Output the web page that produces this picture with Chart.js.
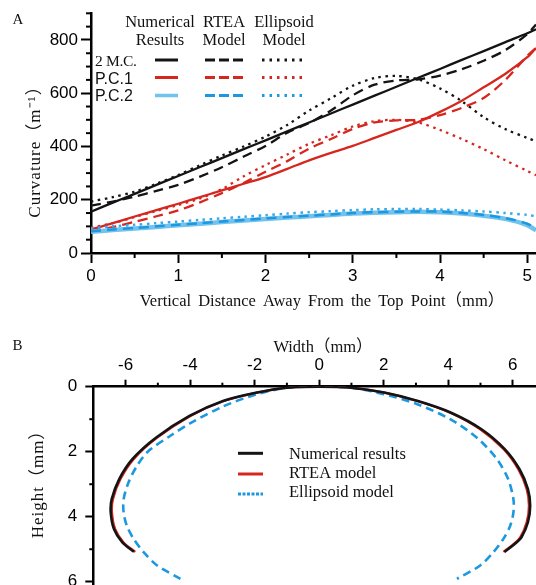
<!DOCTYPE html>
<html><head><meta charset="utf-8">
<script src="https://cdn.jsdelivr.net/npm/chart.js@4.4.1/dist/chart.umd.min.js"></script>
<style>
html,body{margin:0;padding:0;background:#fff;overflow:hidden;}
#wrapA{position:absolute;left:0;top:0;width:536px;height:320px;}
#wrapB{position:absolute;left:0;top:320px;width:536px;height:265px;}
canvas{display:block;}
</style></head><body>
<div id="wrapA"><canvas id="chartA" width="536" height="320"></canvas></div>
<div id="wrapB"><canvas id="chartB" width="536" height="265"></canvas></div>
<script>
// ---------- Panel A data: curvature (m^-1) vs vertical distance (mm) ----------
const distX    = [0,0.25,0.5,0.75,1,1.25,1.5,1.75,2,2.25,2.5,2.75,3,3.25,3.5,3.75,4,4.25,4.5,4.75,5,5.1];
const mc2Num   = [155,189,222,256,289,323,356,390,423,457,490,524,557,591,624,658,691,725,758,792,825,840];
const mc2Rtea  = [178,193,212,233,256,287,322,362,402,452,488,535,592,632,648,652,666,690,722,762,822,858];
const mc2Ell   = [193,210,230,260,293,330,366,400,437,481,535,581,628,657,665,652,618,570,510,465,432,420];
const pc1Num   = [88,112,137,161,185,210,235,260,285,316,348,376,402,432,462,492,530,572,622,673,735,770];
const pc1Rtea  = [80,97,117,138,160,190,225,263,305,345,392,428,466,490,498,500,518,545,582,650,740,770];
const pc1Ell   = [95,112,135,158,180,205,240,288,330,370,410,442,475,495,500,490,462,428,390,348,308,292];
const pc2Num   = [80,86,92,98,104,110,116,122,128,133,138,143,148,151,153,155,153,148,140,128,105,85];
const pc2Rtea  = [82,88,94,100,106,112,118,124,130,135,140,145,150,153,155,156,155,150,143,131,110,90];
const pc2Ell   = [92,100,106,112,118,124,130,136,142,148,153,157,161,164,165,165,163,160,156,150,143,138];
const legendColsA = ["Numerical|Results","RTEA|Model","Ellipsoid|Model"];
const legendRowsA = ["2 M.C.","P.C.1","P.C.2"];
const yMinorA = [50,100,150,250,300,350,450,500,550,650,700,750,850,900];
const xMinorA = [0.5,1.5,2.5,3.5,4.5];

// ---------- Panel B data: profile width (mm) vs height (mm) ----------
const numW  = [-5.74,-6.10,-6.36,-6.46,-6.43,-6.20,-5.79,-5.06,-4.02,-2.98,-1.93,-0.99,0,0.99,2.02,3.06,4.09,5.03,5.75,6.21,6.47,6.54,6.47,6.27,6.06,5.74];
const numH  = [5.08,4.79,4.38,3.87,3.46,2.85,2.23,1.57,0.90,0.44,0.18,0.03,0,0.03,0.18,0.44,0.80,1.31,1.92,2.54,3.15,3.66,4.17,4.63,4.84,5.08];
const rteaW = [-5.70,-6.06,-6.32,-6.42,-6.39,-6.16,-5.75,-5.02,-3.99,-2.96,-1.92,-0.99,0,0.98,2.01,3.04,4.06,4.99,5.71,6.17,6.43,6.50,6.43,6.23,6.02,5.71];
const rteaH = [5.08,4.79,4.38,3.87,3.46,2.85,2.23,1.57,0.90,0.44,0.18,0.03,0,0.03,0.18,0.44,0.80,1.31,1.92,2.54,3.15,3.66,4.17,4.63,4.84,5.08];
const ellW  = [-4.30,-5.02,-5.44,-5.75,-5.96,-6.06,-6.06,-5.91,-5.65,-5.29,-4.61,-3.99,-2.96,-1.92,-0.99,0,0.98,2.01,3.04,4.06,4.89,5.51,5.86,6.02,6.02,5.92,5.71,5.40,4.99,4.27];
const ellH  = [5.91,5.50,5.09,4.68,4.28,3.87,3.46,2.95,2.44,1.98,1.51,1.12,0.60,0.23,0.03,0,0.03,0.23,0.54,1.00,1.57,2.23,2.85,3.46,3.87,4.28,4.68,5.09,5.50,5.91];
const legendB = ["Numerical results","RTEA model","Ellipsoid model"];
const xMinorB = [-5,-3,-1,1,3,5];
const yMinorB = [1,3,5];

// ---------- styling ----------
const BLACK = '#141414', RED = '#d6261e', LBLUE = '#72c2ee', BLUE = '#1c98e0', BLUE2 = '#3aa7e8';
const SERIF = '"Liberation Serif","Times New Roman","Noto Sans CJK SC",serif';
const SANS  = '"Liberation Sans",Arial,sans-serif';
const DASH = [10,6], DOT = [2.5,4.5];

function pts(xs, ys){ return xs.map((x,i)=>({x:x, y:ys[i]})); }
function line(ctx,x1,y1,x2,y2,color,w,dash){
  ctx.save(); ctx.strokeStyle=color; ctx.lineWidth=w; ctx.setLineDash(dash||[]);
  ctx.beginPath(); ctx.moveTo(x1,y1); ctx.lineTo(x2,y2); ctx.stroke(); ctx.restore();
}
function text(ctx,s,x,y,font,align,opt){
  opt = opt||{};
  ctx.save(); ctx.font=font; ctx.fillStyle='#111'; ctx.textAlign=align||'left'; ctx.textBaseline='alphabetic';
  if (opt.wordSpacing) ctx.wordSpacing = opt.wordSpacing;
  if (opt.letterSpacing) ctx.letterSpacing = opt.letterSpacing;
  if (opt.rotate){ ctx.translate(x,y); ctx.rotate(opt.rotate); ctx.fillText(s,0,0); }
  else ctx.fillText(s,x,y);
  ctx.restore();
}
function axisCommon(extra){
  return Object.assign({
    type:'linear',
    border:{display:true, color:'#000', width:2.5},
  }, extra);
}
const lineDs = (data,color,w,dash) => ({data, borderColor:color, borderWidth:w, borderDash:dash||[], showLine:true, pointRadius:0, fill:false, tension:0.3, borderCapStyle:'butt'});

// ---------- Chart A ----------
const pluginA = {
  id:'decorA',
  afterDraw(chart){
    const ctx = chart.ctx, sx = chart.scales.x, sy = chart.scales.y, ca = chart.chartArea;
    yMinorA.forEach(v => { const p = sy.getPixelForValue(v); line(ctx, ca.left-5, p, ca.left, p, '#000', 2); });
    xMinorA.forEach(v => { const p = sx.getPixelForValue(v); line(ctx, p, ca.bottom, p, ca.bottom+5, '#000', 2); });
    // legend table
    const colX = [160,224,284];
    legendColsA.forEach((c,i) => { const parts = c.split('|');
      text(ctx, parts[0], colX[i], 27, '16.5px '+SERIF, 'center');
      text(ctx, parts[1], colX[i], 45, '16.5px '+SERIF, 'center'); });
    text(ctx, legendRowsA[0], 95, 65.5, '15.5px '+SERIF, 'left', {letterSpacing:'-0.3px'});
    text(ctx, legendRowsA[1], 95, 83.5, '16px '+SANS, 'left');
    text(ctx, legendRowsA[2], 95, 100.5, '16px '+SANS, 'left');
    const rowY = [60,77.5,95.5];
    const cols = [[BLACK,BLACK,BLACK],[RED,RED,RED],[LBLUE,BLUE,BLUE]];
    rowY.forEach((y,r) => {
      line(ctx,155,y,178,y,cols[r][0], r===2?3.5:3);
      line(ctx,205,y,243,y,cols[r][1],3,[10,4]);
      line(ctx,262,y,303,y,cols[r][2],3,[2.5,5]);
    });
    // titles
    text(ctx, 'Curvature（m⁻¹）', 40, 147.5, '17px '+SERIF, 'center', {rotate:-Math.PI/2, letterSpacing:'1px'});
    text(ctx, 'Vertical Distance Away From the Top Point（mm）', 322, 306, '16.5px '+SERIF, 'center', {wordSpacing:'3px'});
    text(ctx, 'A', 12.5, 24, '15px '+SERIF, 'left');
  }
};

new Chart(document.getElementById('chartA'), {
  type:'scatter',
  data:{datasets:[
    lineDs(pts(distX,pc2Rtea),BLUE,2.5,DASH),
    lineDs(pts(distX,pc2Ell),BLUE2,2.5,DOT),
    lineDs(pts(distX,pc2Num),LBLUE,4.5),
    lineDs(pts(distX,pc1Rtea),RED,2.3,DASH),
    lineDs(pts(distX,pc1Ell),RED,2.3,DOT),
    lineDs(pts(distX,pc1Num),RED,2.3),
    lineDs(pts(distX,mc2Rtea),BLACK,2.3,DASH),
    lineDs(pts(distX,mc2Ell),BLACK,2.3,DOT),
    lineDs(pts(distX,mc2Num),BLACK,2.3),
  ]},
  options:{
    responsive:false, animation:false, events:[],
    layout:{padding:{top:13.3,left:0,right:0,bottom:0}},
    plugins:{legend:{display:false}, tooltip:{enabled:false}, title:{display:false}},
    scales:{
      x: axisCommon({position:'bottom', min:0, max:5.1,
        ticks:{stepSize:1, includeBounds:false, maxRotation:0, padding:3, color:'#000', font:{family:SANS,size:17}},
        grid:{drawOnChartArea:false, drawTicks:true, tickLength:10, tickWidth:2, tickColor:'#000'},
        afterFit(s){ s.height = 67; s.paddingLeft = 0; s.paddingRight = 0; }}),
      y: axisCommon({position:'left', min:0, max:900,
        ticks:{stepSize:200, includeBounds:false, padding:3, color:'#000', font:{family:SANS,size:17}},
        grid:{drawOnChartArea:false, drawTicks:true, tickLength:10, tickWidth:2, tickColor:'#000'},
        afterFit(s){ s.width = 91; s.paddingTop = 0; s.paddingBottom = 0; }}),
    }
  },
  plugins:[pluginA]
});

// ---------- Chart B ----------
const pluginB = {
  id:'decorB',
  afterDraw(chart){
    const ctx = chart.ctx, sx = chart.scales.x, sy = chart.scales.y, ca = chart.chartArea;
    xMinorB.forEach(v => { const p = sx.getPixelForValue(v); line(ctx, p, ca.top-4, p, ca.top, '#000', 2); });
    yMinorB.forEach(v => { const p = sy.getPixelForValue(v); line(ctx, ca.left-4, p, ca.left, p, '#000', 2); });
    const ly = [133.3,154,174];
    line(ctx,238,ly[0],263,ly[0],BLACK,3);
    line(ctx,238,ly[1],263,ly[1],RED,3);
    line(ctx,238,ly[2],263,ly[2],BLUE,3,[3,1.5]);
    const ty = [139,158,177];
    legendB.forEach((s,i)=> text(ctx, s, 289, ty[i], '16.5px '+SERIF, 'left'));
    text(ctx, 'Width（mm）', 323, 31.5, '16.5px '+SERIF, 'center');
    text(ctx, 'Height（mm）', 43, 160, '17px '+SERIF, 'center', {rotate:-Math.PI/2, letterSpacing:'1px'});
    text(ctx, 'B', 12.5, 30, '15px '+SERIF, 'left');
  }
};

new Chart(document.getElementById('chartB'), {
  type:'scatter',
  data:{datasets:[
    lineDs(pts(numW,numH),BLACK,2.6),
    lineDs(pts(rteaW,rteaH),RED,2.2),
    lineDs(pts(ellW,ellH),BLUE,2.6,[8,5]),
  ]},
  options:{
    responsive:false, animation:false, events:[],
    layout:{padding:{top:0,left:0,right:0,bottom:0}},
    plugins:{legend:{display:false}, tooltip:{enabled:false}, title:{display:false}},
    scales:{
      x: axisCommon({position:'top', min:-7, max:6.72,
        ticks:{stepSize:2, includeBounds:false, maxRotation:0, padding:4, color:'#000', font:{family:SANS,size:17}},
        grid:{drawOnChartArea:false, drawTicks:true, tickLength:7, tickWidth:2, tickColor:'#000'},
        afterFit(s){ s.height = 66.7; s.paddingLeft = 0; s.paddingRight = 0; }}),
      y: axisCommon({position:'left', reverse:true, min:0, max:6.1,
        ticks:{stepSize:2, includeBounds:false, padding:8, color:'#000', font:{family:SANS,size:17}},
        grid:{drawOnChartArea:false, drawTicks:true, tickLength:8, tickWidth:2, tickColor:'#000'},
        afterFit(s){ s.width = 93.3; s.paddingTop = 0; s.paddingBottom = 0; }}),
    }
  },
  plugins:[pluginB]
});
</script>
</body></html>
